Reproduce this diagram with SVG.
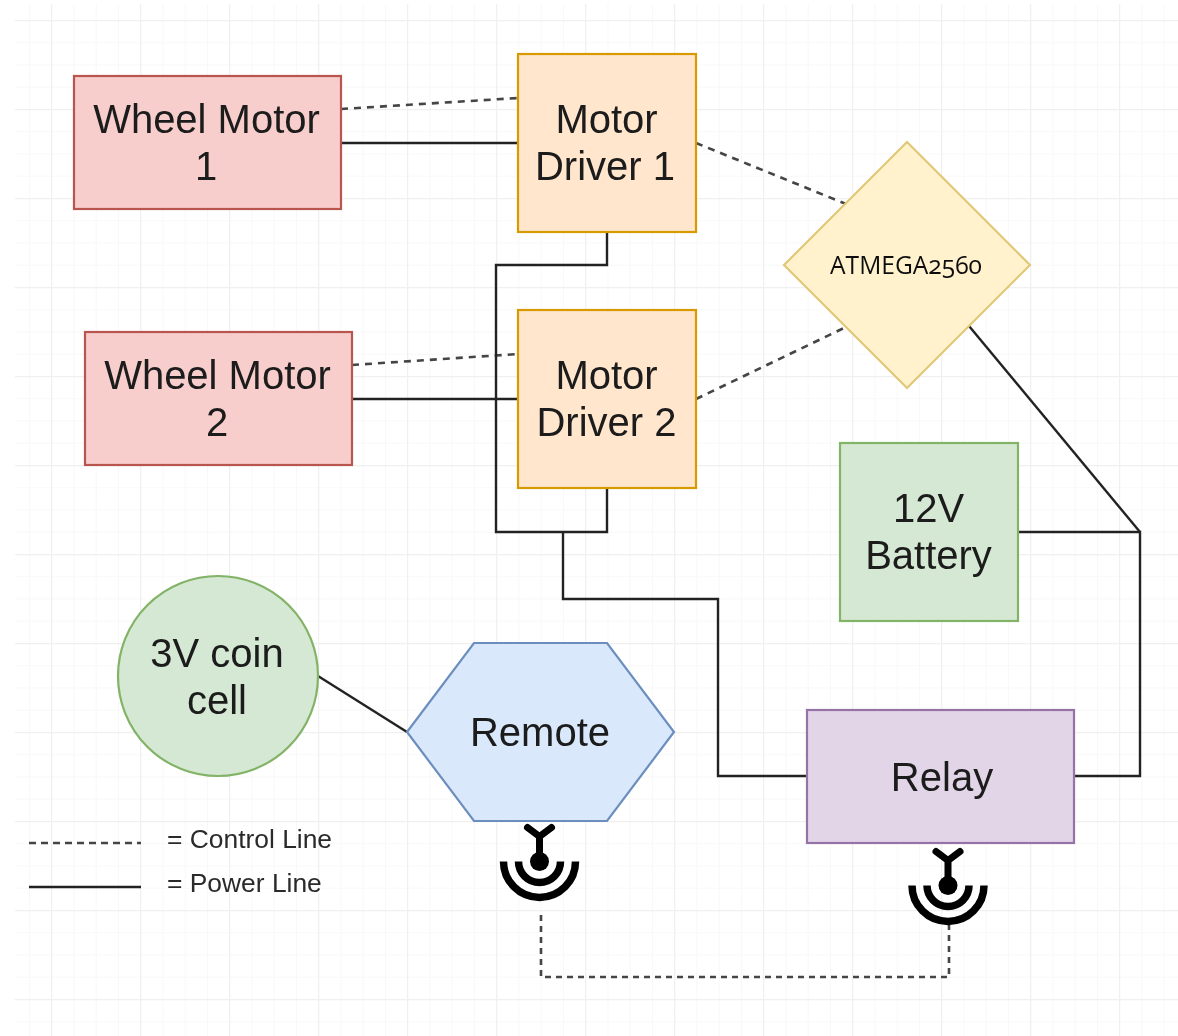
<svg xmlns="http://www.w3.org/2000/svg" width="1178" height="1036" viewBox="0 0 1178 1036">
<defs>
<filter id="soft" filterUnits="userSpaceOnUse" x="0" y="0" width="1178" height="1036"><feGaussianBlur stdDeviation="0.45"/></filter>
<pattern id="gridMinor" patternUnits="userSpaceOnUse" x="6.75" y="-2.25" width="22.25" height="22.25"><path d="M0 0H22.25M0 0V22.25" fill="none" stroke="#f8f8f8" stroke-width="2"/></pattern>
<pattern id="gridMajor" patternUnits="userSpaceOnUse" x="51" y="20" width="89" height="89"><path d="M0 0H89M0 0V89" fill="none" stroke="#f0f0f0" stroke-width="2.6"/></pattern>
<g id="antenna">
<path d="M-12 -34L0 -25L12 -34M0 -25V0" fill="none" stroke="#000" stroke-width="7" stroke-linecap="round" stroke-linejoin="round"/>
<circle cx="0" cy="0" r="9.5" fill="#000"/>
<path d="M-36 0A36 36 0 0 0 36 0M-21 0A21 21 0 0 0 21 0" fill="none" stroke="#000" stroke-width="7.500"/>
</g>
</defs>
<style>
.t{font-family:"Liberation Sans",Arial,sans-serif;font-size:40px;fill:#1a1a1a;text-anchor:middle}
.l{font-family:"Liberation Sans",Arial,sans-serif;font-size:26.4px;fill:#2a2a2a}
.s{stroke-width:2.4;fill:none;stroke:#222}
.d{stroke-width:2.6;fill:none;stroke:#444;stroke-dasharray:7 6}
.b{stroke-width:2.2}
</style>
<rect width="1178" height="1036" fill="#fff"/>
<g filter="url(#soft)">
<rect x="15" y="4" width="1163" height="1032" fill="url(#gridMinor)"/>
<rect x="15" y="4" width="1163" height="1032" fill="url(#gridMajor)"/>
<g id="connectors">
<path class="d" d="M341 109L518 98"/>
<path class="s" d="M341 143H518"/>
<path class="d" d="M696 143L846 204"/>
<path class="d" d="M352 365L518 354"/>
<path class="s" d="M352 399H518"/>
<path class="d" d="M696 399L846 327"/>
<path class="s" d="M607 232V265H496V532H607V488"/>
<path class="s" d="M563 532V599H718V776H807"/>
<path class="s" d="M1074 776H1140V532H1018"/>
<path class="s" d="M969 326L1140 532"/>
<path class="s" d="M318 676L407 732"/>
<path class="d" style="stroke-dasharray:6 5" d="M541 915V977H949V925"/>
<path class="d" style="stroke-dasharray:7 5" d="M29 843H141"/>
<path class="s" d="M29 887H141"/>
</g>
<g id="wheel-motor-1"><rect class="b" x="74" y="76" width="267" height="133" fill="#f8cecc" stroke="#b85450"/><text class="t" x="206.500" y="132.500">Wheel Motor</text><text class="t" x="206" y="179.500">1</text></g>
<g id="motor-driver-1"><rect class="b" x="518" y="54" width="178" height="178" fill="#ffe6cc" stroke="#d79b00"/><text class="t" x="606.500" y="132.500">Motor</text><text class="t" x="605" y="179.500">Driver 1</text></g>
<g id="wheel-motor-2"><rect class="b" x="85" y="332" width="267" height="133" fill="#f8cecc" stroke="#b85450"/><text class="t" x="217.500" y="388.500">Wheel Motor</text><text class="t" x="217" y="435.500">2</text></g>
<g id="motor-driver-2"><rect class="b" x="518" y="310" width="178" height="178" fill="#ffe6cc" stroke="#d79b00"/><text class="t" x="606.500" y="388.500">Motor</text><text class="t" x="606.500" y="435.500">Driver 2</text></g>
<g id="atmega"><path class="b" d="M907 142L1030 265L907 388L784 265Z" fill="#fff2cc" stroke="#e0c878"/><text x="906" y="274" text-anchor="middle" style="font-family:'Open Sans','Noto Sans',sans-serif;font-size:24.6px;font-variant-numeric:oldstyle-nums;fill:#111">ATMEGA2560</text></g>
<g id="battery"><rect class="b" x="840" y="443" width="178" height="178" fill="#d5e8d4" stroke="#82b366"/><text class="t" x="928.500" y="521.500">12V</text><text class="t" x="928.500" y="568.500">Battery</text></g>
<g id="coin-cell"><circle class="b" cx="218" cy="676" r="100" fill="#d5e8d4" stroke="#82b366"/><text class="t" x="217" y="666.500">3V coin</text><text class="t" x="217" y="713.500">cell</text></g>
<g id="remote"><path class="b" d="M407 732L474 643H607L674 732L607 821H474Z" fill="#dae8fc" stroke="#6c8ebf"/><text class="t" x="540" y="746">Remote</text></g>
<g id="relay"><rect class="b" x="807" y="710" width="267" height="133" fill="#e1d5e7" stroke="#9673a6"/><text class="t" x="942" y="790.500">Relay</text></g>
<g id="antenna-remote"><use href="#antenna" x="539.500" y="861.500"/></g>
<g id="antenna-relay"><use href="#antenna" x="948" y="885.500"/></g>
<g id="legend"><text class="l" x="167" y="848">= Control Line</text><text class="l" x="167" y="892">= Power Line</text></g>
</g>
</svg>
